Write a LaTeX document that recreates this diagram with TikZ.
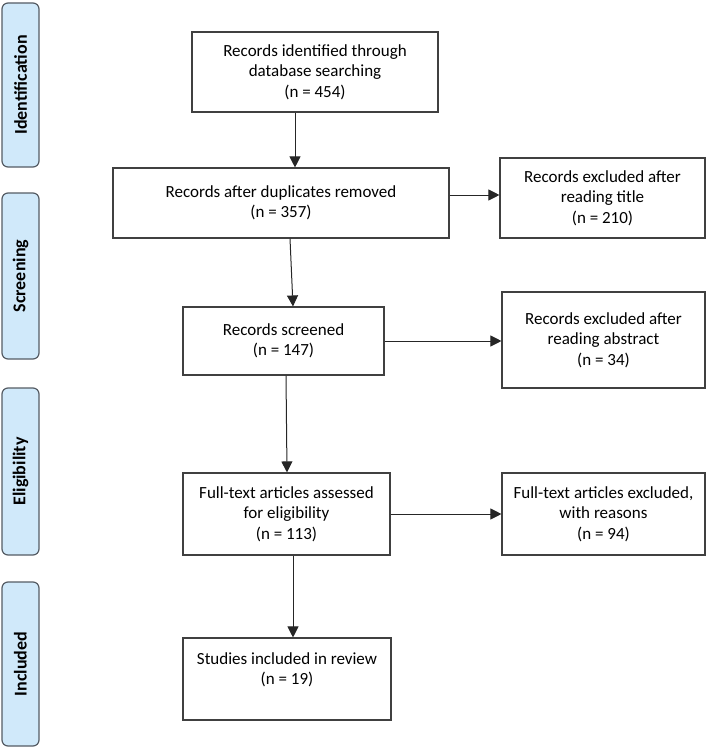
\documentclass[tikz,border=0pt]{standalone}
\usepackage{fontspec}
\setmainfont{Carlito}
\usetikzlibrary{arrows.meta}
\definecolor{phasefill}{RGB}{208,233,250}
\definecolor{phaseline}{RGB}{85,92,100}
\tikzset{
  box/.style={draw=black!75, line width=1.1pt, align=center, inner sep=0pt,
    font=\fontsize{17}{20.5}\selectfont},
  phase/.style={draw=phaseline, line width=1.2pt, fill=phasefill, rounded corners=6pt,
    rotate=90, minimum height=37pt, font=\fontsize{18}{20}\bfseries\selectfont},
  arr/.style={-{Triangle[length=11pt,width=11pt]}, line width=1pt, black!85}
}
\begin{document}
\begin{tikzpicture}[x=1pt,y=-1pt]
    \useasboundingbox (0,0) rectangle (711,749);
    % phases on the left
    \node[phase, minimum width=164pt] (pid) at (20.5,85) {Identification};
    \node[phase, minimum width=166pt] (psc) at (20.5,276) {Screening};
    \node[phase, minimum width=167pt] (pel) at (20.5,471.5) {Eligibility};
    \node[phase, minimum width=164pt] (pin) at (20.5,664) {Included};
    % main column
    \node[box, minimum width=246pt, minimum height=80pt] (found) at (315,72)
        {Records identified through\\database searching\\(n = 454)};
    \node[box, minimum width=336pt, minimum height=70pt] (dedup) at (281,203)
        {Records after duplicates removed\\(n = 357)};
    \node[box, minimum width=201pt, minimum height=68pt] (screen) at (283.5,341)
        {Records screened\\(n = 147)};
    \node[box, minimum width=207pt, minimum height=82pt] (full) at (286.5,514)
        {Full-text articles assessed\\for eligibility\\(n = 113)};
    \node[box, minimum width=208pt, minimum height=82pt] (incl) at (287,679)
        {Studies included in review\\(n = 19)\\\mbox{}};
    % excluded column
    \node[box, minimum width=205pt, minimum height=80pt] (extitle) at (602.5,198)
        {Records excluded after\\reading title\\(n = 210)};
    \node[box, minimum width=203pt, minimum height=96pt] (exabs) at (603.5,340)
        {Records excluded after\\reading abstract\\(n = 34)};
    \node[box, minimum width=203pt, minimum height=82pt] (exfull) at (603.5,514)
        {Full-text articles excluded,\\with reasons\\(n = 94)};
    % arrows
    \draw[arr] ([xshift=-20pt]found.south) -- ([xshift=14pt]dedup.north);
    \draw[arr] ([xshift=9pt]dedup.south) -- ([xshift=9.5pt]screen.north);
    \draw[arr] ([xshift=2.5pt]screen.south) -- ([xshift=0.5pt]full.north);
    \draw[arr] ([xshift=6.5pt]full.south) -- ([xshift=6pt]incl.north);
    \draw[arr] ([yshift=8pt]dedup.east) coordinate (a1) -- (a1 -| extitle.west);
    \draw[arr] (screen.east) -- (screen.east -| exabs.west);
    \draw[arr] (full) -- (exfull);
\end{tikzpicture}
\end{document}
